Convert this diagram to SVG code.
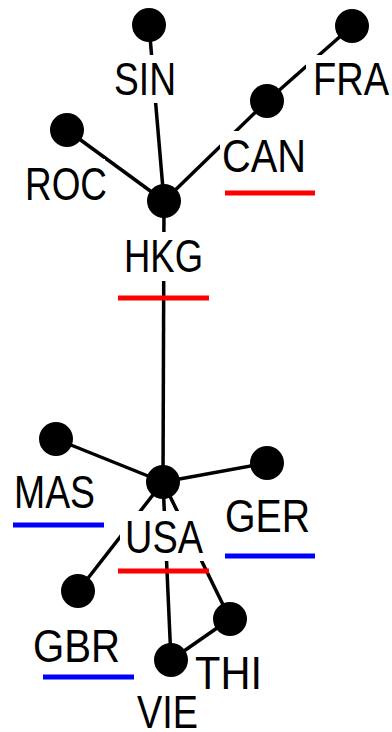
<svg xmlns="http://www.w3.org/2000/svg" width="392" height="732" viewBox="0 0 392 732">
<style>
.bg{fill:#ffffff}
.dot{fill:#000000}
.lbl{font-family:"Liberation Sans",Arial,sans-serif;font-size:47px;fill:#000000}
.edge{stroke:#000000;stroke-width:3.5;fill:none}
.red{fill:#ff0000}
.blue{fill:#0000ff}
</style>
<rect width="392" height="732" fill="#ffffff"/>
<g id="connectors">
<line class="edge" x1="149" y1="25" x2="164" y2="201"/>
<line class="edge" x1="67" y1="130" x2="164" y2="201"/>
<line class="edge" x1="267" y1="101" x2="164" y2="201"/>
<line class="edge" x1="352" y1="26" x2="267" y2="101"/>
<line class="edge" x1="164" y1="201" x2="163" y2="482"/>
<line class="edge" x1="56" y1="439" x2="163" y2="482"/>
<line class="edge" x1="267" y1="463" x2="163" y2="482"/>
<line class="edge" x1="78" y1="591" x2="163" y2="482"/>
<line class="edge" x1="163" y1="482" x2="171" y2="660"/>
<line class="edge" x1="163" y1="482" x2="230" y2="619"/>
<line class="edge" x1="230" y1="619" x2="171" y2="660"/>
</g>
<g id="SIN">
<circle class="dot" cx="149" cy="25" r="17"/>
<rect class="bg" x="110" y="55" width="70" height="48"/>
<text class="lbl" x="114" y="95" textLength="62" lengthAdjust="spacingAndGlyphs">SIN</text>
</g>
<g id="FRA">
<circle class="dot" cx="352" cy="26" r="17"/>
<rect class="bg" x="306" y="55" width="86" height="48"/>
<text class="lbl" x="313" y="95" textLength="76" lengthAdjust="spacingAndGlyphs">FRA</text>
</g>
<g id="CAN">
<circle class="dot" cx="267" cy="101" r="17"/>
<rect class="bg" x="220" y="131" width="90" height="48"/>
<text class="lbl" x="222" y="172" textLength="84" lengthAdjust="spacingAndGlyphs">CAN</text>
<rect class="red" x="225" y="190.5" width="90" height="5"/>
</g>
<g id="ROC">
<circle class="dot" cx="67" cy="130" r="17"/>
<rect class="bg" x="22" y="159" width="83" height="48"/>
<text class="lbl" x="25" y="200" textLength="82" lengthAdjust="spacingAndGlyphs">ROC</text>
</g>
<g id="HKG">
<circle class="dot" cx="164" cy="201" r="17"/>
<rect class="bg" x="119" y="232" width="89" height="49"/>
<text class="lbl" x="124" y="272" textLength="79" lengthAdjust="spacingAndGlyphs">HKG</text>
<rect class="red" x="118" y="295.5" width="91" height="5"/>
</g>
<g id="MAS">
<circle class="dot" cx="56" cy="439" r="17"/>
<rect class="bg" x="10" y="468" width="90" height="48"/>
<text class="lbl" x="14" y="508" textLength="81" lengthAdjust="spacingAndGlyphs">MAS</text>
<rect class="blue" x="13" y="522.5" width="91" height="5"/>
</g>
<g id="USA">
<circle class="dot" cx="163" cy="482" r="17"/>
<rect class="bg" x="120" y="511" width="86" height="50"/>
<text class="lbl" x="125" y="553" textLength="78" lengthAdjust="spacingAndGlyphs">USA</text>
<rect class="red" x="118" y="568.5" width="91" height="5"/>
</g>
<g id="GER">
<circle class="dot" cx="267" cy="463" r="17"/>
<rect class="bg" x="221" y="492" width="92" height="48"/>
<text class="lbl" x="225" y="532" textLength="85" lengthAdjust="spacingAndGlyphs">GER</text>
<rect class="blue" x="225" y="553.5" width="90" height="5"/>
</g>
<g id="GBR">
<circle class="dot" cx="78" cy="591" r="17"/>
<rect class="bg" x="29" y="621" width="95" height="48"/>
<text class="lbl" x="33" y="662" textLength="87" lengthAdjust="spacingAndGlyphs">GBR</text>
<rect class="blue" x="43" y="674.5" width="91" height="5"/>
</g>
<g id="THI">
<circle class="dot" cx="230" cy="619" r="17"/>
<rect class="bg" x="191" y="648" width="75" height="48"/>
<text class="lbl" x="195" y="689" textLength="67" lengthAdjust="spacingAndGlyphs">THI</text>
</g>
<g id="VIE">
<circle class="dot" cx="171" cy="660" r="17"/>
<rect class="bg" x="133" y="689" width="69" height="43"/>
<text class="lbl" x="137" y="728" textLength="61" lengthAdjust="spacingAndGlyphs">VIE</text>
</g>
</svg>
